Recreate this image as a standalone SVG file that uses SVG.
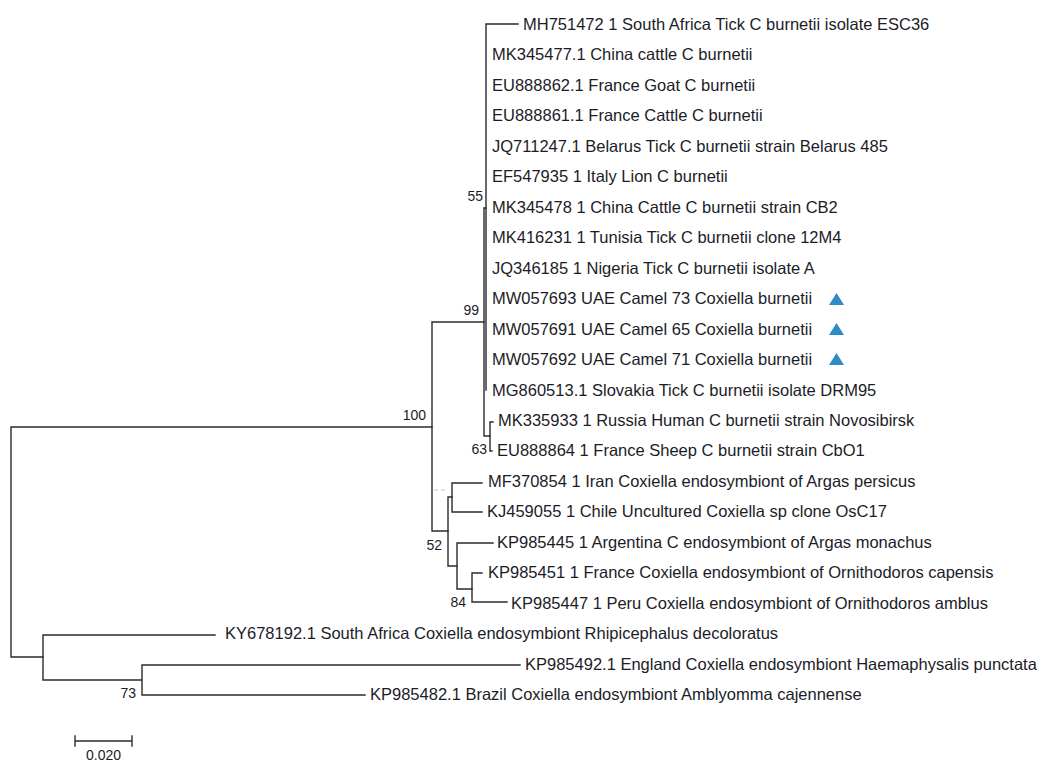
<svg xmlns="http://www.w3.org/2000/svg" width="1038" height="761" viewBox="0 0 1038 761">
<style>
.br{fill:none;stroke:#2b2b2b;stroke-width:1.4;stroke-linecap:square}
.lb{font-family:"Liberation Sans",Arial,sans-serif;font-size:16.5px;fill:#1c1c28}
.bs{font-family:"Liberation Sans",Arial,sans-serif;font-size:14px;fill:#1c1c28;text-anchor:end}
.tri{fill:#2f8ac6}
</style>
<rect width="1038" height="761" fill="#ffffff"/>
<g id="connectors">
<path class="br" d="M11,427 V657 M11,427 H432 M11,657 H43"/>
<path class="br" d="M43,635 V680 M43,635 H215 M43,680 H142 M142,665 V695 M142,665 H520 M142,695 H365"/>
<path class="br" d="M432,322 V531 M432,322 H484 M432,531 H448"/>
<path class="br" d="M484,208 V436 M484,208 H486 M484,436 H490"/>
<path class="br" d="M486,24 V390 M486,24 H518"/>
<path class="br" d="M490,422 V451 M490,422 H493 M490,451 H492"/>
<path class="br" d="M448,497 V566 M448,497 H452 M448,566 H457"/>
<path class="br" d="M452,483 V512 M452,483 H482 M452,512 H482"/>
<path class="br" d="M457,543 V589 M457,543 H493 M457,589 H472"/>
<path class="br" d="M472,573 V602 M472,573 H482 M472,602 H507"/>
<path d="M434,490 H447" fill="none" stroke="#c8c8c8" stroke-width="1" stroke-dasharray="4,3"/>
</g>
<g id="bootstrap">
<text class="bs" x="483" y="201">55</text>
<text class="bs" x="479" y="315">99</text>
<text class="bs" x="426" y="420">100</text>
<text class="bs" x="487" y="454">63</text>
<text class="bs" x="442" y="550">52</text>
<text class="bs" x="466" y="607">84</text>
<text class="bs" x="136" y="698">73</text>
</g>
<g id="leaf-MH751472"><text class="lb" x="523" y="30">MH751472 1 South Africa Tick C burnetii isolate ESC36</text></g>
<g id="leaf-MK345477"><text class="lb" x="492" y="60">MK345477.1 China cattle C burnetii</text></g>
<g id="leaf-EU888862"><text class="lb" x="492" y="91">EU888862.1 France Goat C burnetii</text></g>
<g id="leaf-EU888861"><text class="lb" x="492" y="121">EU888861.1 France Cattle C burnetii</text></g>
<g id="leaf-JQ711247"><text class="lb" x="492" y="152">JQ711247.1 Belarus Tick C burnetii strain Belarus 485</text></g>
<g id="leaf-EF547935"><text class="lb" x="492" y="182">EF547935 1 Italy Lion C burnetii</text></g>
<g id="leaf-MK345478"><text class="lb" x="492" y="213">MK345478 1 China Cattle C burnetii strain CB2</text></g>
<g id="leaf-MK416231"><text class="lb" x="492" y="243">MK416231 1 Tunisia Tick C burnetii clone 12M4</text></g>
<g id="leaf-JQ346185"><text class="lb" x="492" y="274">JQ346185 1 Nigeria Tick C burnetii isolate A</text></g>
<g id="leaf-MW057693"><text class="lb" x="492" y="304">MW057693 UAE Camel 73 Coxiella burnetii</text><polygon class="tri" points="829,305 836.5,293 844,305"/></g>
<g id="leaf-MW057691"><text class="lb" x="492" y="335">MW057691 UAE Camel 65 Coxiella burnetii</text><polygon class="tri" points="829,335 836.5,323 844,335"/></g>
<g id="leaf-MW057692"><text class="lb" x="492" y="365">MW057692 UAE Camel 71 Coxiella burnetii</text><polygon class="tri" points="829,365 836.5,353 844,365"/></g>
<g id="leaf-MG860513"><text class="lb" x="492" y="396">MG860513.1 Slovakia Tick C burnetii isolate DRM95</text></g>
<g id="leaf-MK335933"><text class="lb" x="498" y="426">MK335933 1 Russia Human C burnetii strain Novosibirsk</text></g>
<g id="leaf-EU888864"><text class="lb" x="497" y="456">EU888864 1 France Sheep C burnetii strain CbO1</text></g>
<g id="leaf-MF370854"><text class="lb" x="488" y="487">MF370854 1 Iran Coxiella endosymbiont of Argas persicus</text></g>
<g id="leaf-KJ459055"><text class="lb" x="487" y="517">KJ459055 1 Chile Uncultured Coxiella sp clone OsC17</text></g>
<g id="leaf-KP985445"><text class="lb" x="497" y="548">KP985445 1 Argentina C endosymbiont of Argas monachus</text></g>
<g id="leaf-KP985451"><text class="lb" x="488" y="578">KP985451 1 France Coxiella endosymbiont of Ornithodoros capensis</text></g>
<g id="leaf-KP985447"><text class="lb" x="511" y="609">KP985447 1 Peru Coxiella endosymbiont of Ornithodoros amblus</text></g>
<g id="leaf-KY678192"><text class="lb" x="225" y="639">KY678192.1 South Africa Coxiella endosymbiont Rhipicephalus decoloratus</text></g>
<g id="leaf-KP985492"><text class="lb" x="525" y="670">KP985492.1 England Coxiella endosymbiont Haemaphysalis punctata</text></g>
<g id="leaf-KP985482"><text class="lb" x="370" y="700">KP985482.1 Brazil Coxiella endosymbiont Amblyomma cajennense</text></g>
<g id="scale-bar">
<path class="br" d="M75,741 H132 M75,736 V746 M132,736 V746"/>
<text class="bs" x="103.5" y="760" style="text-anchor:middle">0.020</text>
</g>
</svg>
